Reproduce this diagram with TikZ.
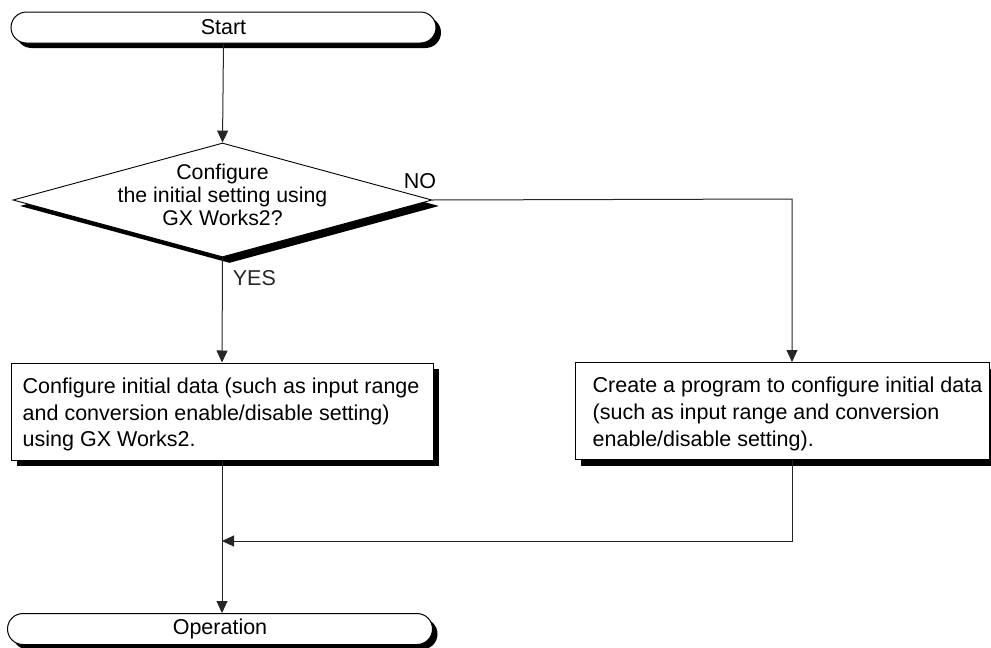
\documentclass[tikz,border=0pt]{standalone}
\usepackage{fontspec}
\setmainfont{Liberation Sans}
\usetikzlibrary{arrows.meta,shapes.geometric,shapes.misc,shadows,positioning}

\newcommand{\flowfont}{\fontsize{21.5pt}{26.7pt}\selectfont}

\tikzset{
  flowline/.style={line width=1pt, black!85},
  flowarrow/.style={flowline, -{Triangle[length=12pt,width=11pt]}},
  blackshadow/.style={drop shadow={shadow xshift=#1, shadow yshift=-#1, fill=black, opacity=1}},
  termbox/.style={rounded rectangle, draw, line width=1pt, fill=white,
    minimum width=425pt, minimum height=31pt, inner sep=0pt, font=\flowfont, blackshadow=5pt},
  askshape/.style={diamond, draw, line width=0.9pt, fill=white, inner sep=0pt,
    minimum width=419pt, minimum height=114pt,
    drop shadow={shadow xshift=7pt, shadow yshift=-6pt, fill=black, opacity=1}},
  asktext/.style={align=center, font=\fontsize{21.3pt}{23pt}\selectfont, inner sep=0pt},
  procbox/.style={rectangle, draw, line width=1pt, fill=white, minimum height=97pt,
    inner sep=0pt, blackshadow=6pt},
  proctext/.style={anchor=west, align=left, font=\flowfont, inner sep=0pt, yshift=-3pt},
  yesno/.style={font=\flowfont, inner sep=0pt}
}

\begin{document}
\begin{tikzpicture}[x=1pt, y=-1pt]
  \useasboundingbox (0,0) rectangle (991,648);

  % Terminaux
  \node[termbox] (start) at (223.5,27.5) {Start};
  \node[termbox] (oper) at (220,629) {Operation};

  % Decision
  \node[askshape] (ask) at (222.5,200) {};
  \node[asktext] (asklabel) at (222.5,195) {Configure\\the initial setting using\\GX Works2?};

  % Traitements
  \node[procbox, minimum width=422pt] (boxgx) at (222,411.5) {};
  \node[proctext] (gxlabel) at ([xshift=12pt]boxgx.west) {Configure initial data (such as input range\\and conversion enable/disable setting)\\using GX Works2.};
  \node[procbox, minimum width=414pt] (boxprog) at (782,411) {};
  \node[proctext] (proglabel) at ([xshift=18pt]boxprog.west) {Create a program to configure initial data\\(such as input range and conversion\\enable/disable setting).};

  % Points de passage
  \coordinate (noturn) at (792,199);
  \coordinate (merge) at (222,541);

  % Liaisons
  \draw[flowarrow] (start.south) -- (ask.north);
  \draw[flowarrow] (ask.south) -- (boxgx.north)
    node[yesno, pos=0.2, anchor=west, xshift=10pt] (yes) {YES};
  \draw[flowarrow] (ask.east) -- (noturn) -- (noturn |- boxprog.north);
  \node[yesno] (no) at (420,181) {NO};
  \draw[flowarrow] (boxgx.south) -- (boxgx.south |- oper.north);
  \draw[flowarrow] (noturn |- boxprog.south) |- (merge);
\end{tikzpicture}
\end{document}
